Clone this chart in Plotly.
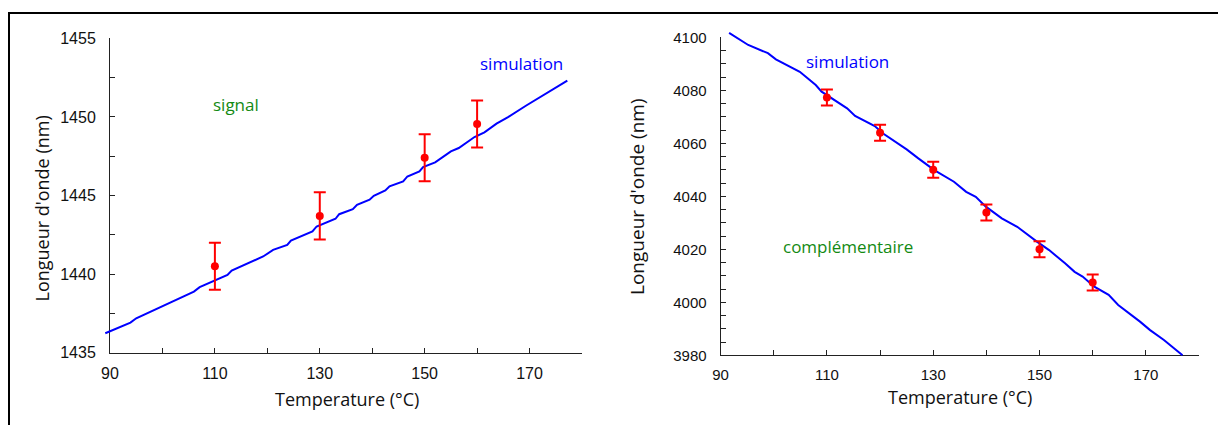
import plotly.graph_objects as go

# ---------------- data ----------------
# Left panel: signal wavelength vs temperature
sim_signal_T = [89.1, 93.9, 95.0, 106.0, 107.1, 112.4, 113.2, 119.2, 121.1, 123.8, 124.5,
                128.6, 129.4, 133.0, 133.7, 136.3, 137.1, 139.5, 140.3, 142.5, 143.3,
                145.9, 146.7, 149.0, 149.7, 152.0, 155.0, 156.5, 159.5, 161.4, 163.7,
                165.9, 169.3, 177.2]
sim_signal_nm = [1436.24, 1436.91, 1437.19, 1438.89, 1439.17, 1439.95, 1440.22, 1441.12,
                 1441.54, 1441.86, 1442.13, 1442.71, 1443.03, 1443.52, 1443.81, 1444.13,
                 1444.41, 1444.73, 1444.98, 1445.32, 1445.58, 1445.89, 1446.21, 1446.53,
                 1446.81, 1447.11, 1447.81, 1448.02, 1448.72, 1449.02, 1449.57, 1449.99,
                 1450.71, 1452.31]
meas_signal_T = [110, 130, 150, 160]
meas_signal_nm = [1440.5, 1443.7, 1447.4, 1449.55]
meas_signal_err = [1.5, 1.5, 1.5, 1.5]

# Right panel: idler (complementary) wavelength vs temperature
sim_idler_T = [91.6, 95.2, 98.9, 100.4, 104.9, 107.9, 109.0, 113.8, 115.3, 119.0, 120.5,
               125.0, 127.2, 130.2, 133.9, 136.2, 138.0, 139.9, 142.9, 145.8, 149.5,
               151.8, 154.8, 156.6, 158.1, 160.3, 163.0, 164.8, 168.9, 170.8, 173.4, 176.9]
sim_idler_nm = [4101.7, 4097.1, 4094.0, 4091.7, 4087.0, 4082.0, 4079.5, 4073.2, 4070.3,
                4066.5, 4063.8, 4057.7, 4054.3, 4049.9, 4045.5, 4041.7, 4039.8, 4036.1,
                4031.7, 4028.5, 4022.9, 4019.7, 4014.7, 4011.5, 4009.7, 4005.9, 4002.8,
                3999.0, 3992.7, 3989.5, 3985.8, 3980.0]
meas_idler_T = [110, 120, 130, 140, 150, 160]
meas_idler_nm = [4077.3, 4064.0, 4050.0, 4033.9, 4020.0, 4007.5]
meas_idler_err = [3.0, 3.0, 3.0, 3.0, 3.0, 3.0]

x_ticks = [90, 110, 130, 150, 170]

# ---------------- layout geometry (pixels of the 1226x425 page) ----------------
PAGE_W, PAGE_H = 1226, 425
OFF = 8                      # default body margin of the html page
W, H = PAGE_W - OFF, PAGE_H - OFF

def px(x):
    return (x - OFF) / W
def py(y):
    return 1 - (y - OFF) / H

L = dict(x0=110, x1=582, ytop=38.3, ybot=352.7, xr=(90, 180), yr=(1435, 1455))
R = dict(x0=720.6, x1=1199, ytop=37.3, ybot=355.3, xr=(90, 180), yr=(3980, 4100))
PAD = 14  # extra pixels for the (invisible) data axes so lines are not clipped

def expanded(p):
    sx = (p["x1"] - p["x0"]) / (p["xr"][1] - p["xr"][0])
    sy = (p["ybot"] - p["ytop"]) / (p["yr"][1] - p["yr"][0])
    xr = [p["xr"][0] - PAD / sx, p["xr"][1] + PAD / sx]
    yr = [p["yr"][0] - PAD / sy, p["yr"][1] + PAD / sy]
    xd = [px(p["x0"] - PAD), px(p["x1"] + PAD)]
    yd = [py(p["ybot"] + PAD), py(p["ytop"] - PAD)]
    return xr, yr, xd, yd

fig = go.Figure()

BLUE = "#0000FF"
RED = "#FF0000"
GREEN = "#138A13"

fig.add_trace(go.Scatter(x=sim_signal_T, y=sim_signal_nm, mode="lines",
                         line=dict(color=BLUE, width=2), xaxis="x3", yaxis="y3",
                         showlegend=False, hoverinfo="skip"))
fig.add_trace(go.Scatter(x=meas_signal_T, y=meas_signal_nm, mode="markers",
                         marker=dict(color=RED, size=8),
                         error_y=dict(type="data", array=meas_signal_err, color=RED,
                                      thickness=2, width=6),
                         xaxis="x3", yaxis="y3", showlegend=False))
fig.add_trace(go.Scatter(x=sim_idler_T, y=sim_idler_nm, mode="lines",
                         line=dict(color=BLUE, width=2), xaxis="x4", yaxis="y4",
                         showlegend=False, hoverinfo="skip"))
fig.add_trace(go.Scatter(x=meas_idler_T, y=meas_idler_nm, mode="markers",
                         marker=dict(color=RED, size=8),
                         error_y=dict(type="data", array=meas_idler_err, color=RED,
                                      thickness=2, width=6),
                         xaxis="x4", yaxis="y4", showlegend=False))

tick_font_L = dict(family="Liberation Sans Narrow, Liberation Sans, Arial", size=16, color="#111")
tick_font_R = dict(family="Liberation Sans, Arial", size=15, color="#111")

def vis_x(p, font, anchor):
    return dict(domain=[px(p["x0"]), px(p["x1"])], range=list(p["xr"]), anchor=anchor,
                tickvals=x_ticks, ticktext=[str(v) for v in x_ticks],
                ticks="inside", ticklen=5, tickcolor="#222", tickwidth=1,
                minor=dict(dtick=10, tick0=90, ticks="inside", ticklen=5, tickcolor="#222", tickwidth=1),
                showline=True, linecolor="#222", linewidth=1, showgrid=False, zeroline=False,
                tickfont=font, ticklabelstandoff=6, fixedrange=True, automargin=False)

def vis_y(p, font, anchor, dtick, minor):
    return dict(domain=[py(p["ybot"]), py(p["ytop"])], range=list(p["yr"]), anchor=anchor,
                dtick=dtick, tick0=p["yr"][0],
                ticks="inside", ticklen=5, tickcolor="#222", tickwidth=1,
                minor=dict(dtick=minor, tick0=p["yr"][0], ticks="inside", ticklen=5, tickcolor="#222", tickwidth=1),
                showline=True, linecolor="#222", linewidth=1, showgrid=False, zeroline=False,
                tickfont=font, ticklabelstandoff=10, fixedrange=True, automargin=False)

xr3, yr3, xd3, yd3 = expanded(L)
xr4, yr4, xd4, yd4 = expanded(R)

def hidden(rng, dom, anchor):
    return dict(range=rng, domain=dom, anchor=anchor, visible=False, fixedrange=True,
                showgrid=False, zeroline=False)

fig.update_layout(
    width=W, height=H,
    margin=dict(l=0, r=0, t=0, b=0, pad=0, autoexpand=False),
    paper_bgcolor="white", plot_bgcolor="rgba(0,0,0,0)",
    xaxis=vis_x(L, tick_font_L, "y"),
    yaxis=vis_y(L, tick_font_L, "x", 5, 2.5),
    xaxis2=vis_x(R, tick_font_R, "y2"),
    yaxis2=vis_y(R, tick_font_R, "x2", 20, 5),
    xaxis3=hidden(xr3, xd3, "y3"),
    yaxis3=hidden(yr3, yd3, "x3"),
    xaxis4=hidden(xr4, xd4, "y4"),
    yaxis4=hidden(yr4, yd4, "x4"),
    showlegend=False,
)

TXT = "Open Sans, Lato, DejaVu Sans"
ann = [
    dict(text="signal", x=114.0, y=1450.8, xref="x", yref="y", font=dict(family=TXT, size=17, color=GREEN)),
    dict(text="simulation", x=168.4, y=1453.4, xref="x", yref="y", font=dict(family=TXT, size=17, color=BLUE)),
    dict(text="simulation", x=113.8, y=4090.7, xref="x2", yref="y2", font=dict(family=TXT, size=17, color=BLUE)),
    dict(text="complémentaire", x=114.0, y=4020.9, xref="x2", yref="y2", font=dict(family=TXT, size=17, color=GREEN)),
    dict(text="Temperature (°C)", x=px(347), y=py(399), xref="paper", yref="paper",
         font=dict(family=TXT, size=18, color="#111")),
    dict(text="Temperature (°C)", x=px(960), y=py(397), xref="paper", yref="paper",
         font=dict(family=TXT, size=18, color="#111")),
    dict(text="Longueur d'onde (nm)", x=px(41.5), y=py(209), xref="paper", yref="paper", textangle=-90,
         font=dict(family=TXT, size=18, color="#111")),
    dict(text="Longueur d'onde (nm)", x=px(637), y=py(197), xref="paper", yref="paper", textangle=-90,
         font=dict(family=TXT, size=19, color="#111")),
]
for a in ann:
    a.update(showarrow=False, xanchor="center", yanchor="middle")
fig.update_layout(annotations=ann)

# outer frame of the figure
fig.add_shape(type="rect", xref="paper", yref="paper",
              x0=px(9), x1=px(1223), y0=py(445), y1=py(13),
              line=dict(color="black", width=2), fillcolor="rgba(0,0,0,0)", layer="below")

fig.write_html("out.html")
